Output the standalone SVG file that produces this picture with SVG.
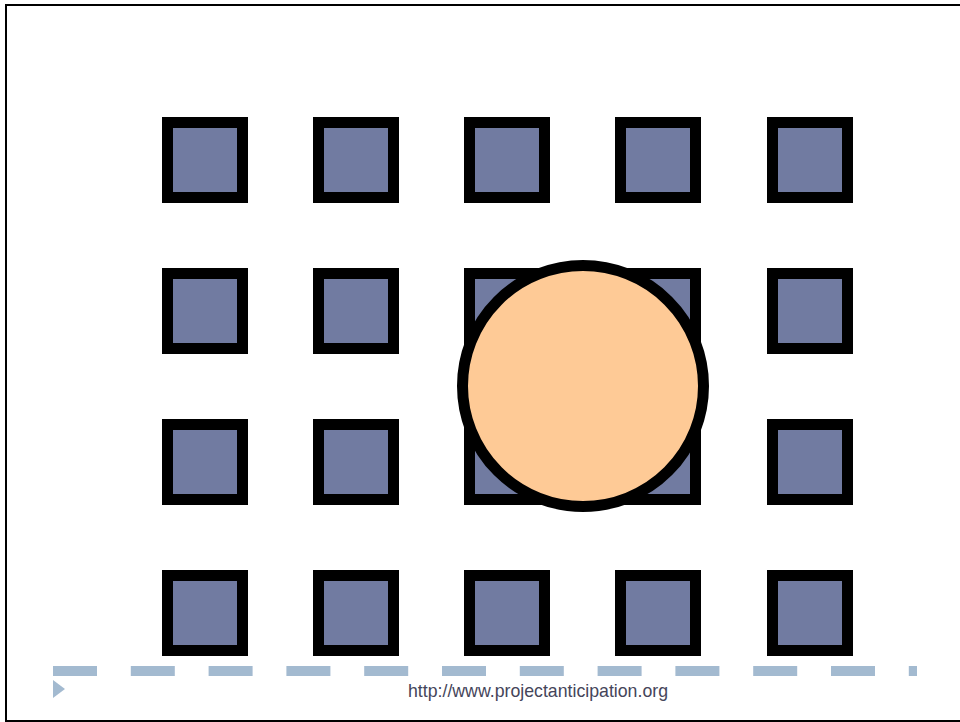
<svg xmlns="http://www.w3.org/2000/svg" width="960" height="722" viewBox="0 0 960 722">
  <defs>
    <style>
      .sq { fill: #717BA1; stroke: #000; stroke-width: 11; }
      .dot { fill: #FECA96; stroke: #000; stroke-width: 11; }
      .dash { stroke: #A3BAD0; stroke-width: 10; stroke-dasharray: 44 33.8; fill: none; }
      .url { font-family: "Liberation Sans", Arial, sans-serif; font-size: 19px; fill: #45455A; }
    </style>
  </defs>
  <rect x="0" y="0" width="960" height="722" fill="#fff"/>
  <rect x="6" y="5" width="960" height="716" fill="#fff" stroke="#000" stroke-width="2"/>
  <g id="grid">
    <g id="r1c1"><rect class="sq" x="167.5" y="122.5" width="75" height="75"/></g>
    <g id="r1c2"><rect class="sq" x="318.5" y="122.5" width="75" height="75"/></g>
    <g id="r1c3"><rect class="sq" x="469.5" y="122.5" width="75" height="75"/></g>
    <g id="r1c4"><rect class="sq" x="620.5" y="122.5" width="75" height="75"/></g>
    <g id="r1c5"><rect class="sq" x="772.5" y="122.5" width="75" height="75"/></g>
    <g id="r2c1"><rect class="sq" x="167.5" y="273.5" width="75" height="75"/></g>
    <g id="r2c2"><rect class="sq" x="318.5" y="273.5" width="75" height="75"/></g>
    <g id="r2c3"><rect class="sq" x="469.5" y="273.5" width="75" height="75"/></g>
    <g id="r2c4"><rect class="sq" x="620.5" y="273.5" width="75" height="75"/></g>
    <g id="r2c5"><rect class="sq" x="772.5" y="273.5" width="75" height="75"/></g>
    <g id="r3c1"><rect class="sq" x="167.5" y="424.5" width="75" height="75"/></g>
    <g id="r3c2"><rect class="sq" x="318.5" y="424.5" width="75" height="75"/></g>
    <g id="r3c3"><rect class="sq" x="469.5" y="424.5" width="75" height="75"/></g>
    <g id="r3c4"><rect class="sq" x="620.5" y="424.5" width="75" height="75"/></g>
    <g id="r3c5"><rect class="sq" x="772.5" y="424.5" width="75" height="75"/></g>
    <g id="r4c1"><rect class="sq" x="167.5" y="575.5" width="75" height="75"/></g>
    <g id="r4c2"><rect class="sq" x="318.5" y="575.5" width="75" height="75"/></g>
    <g id="r4c3"><rect class="sq" x="469.5" y="575.5" width="75" height="75"/></g>
    <g id="r4c4"><rect class="sq" x="620.5" y="575.5" width="75" height="75"/></g>
    <g id="r4c5"><rect class="sq" x="772.5" y="575.5" width="75" height="75"/></g>
  </g>
  <g id="circle"><circle class="dot" cx="583" cy="386" r="120.5"/></g>
  <g id="footer">
    <line class="dash" x1="53" y1="671" x2="917" y2="671"/>
    <polygon points="53,680 65,689 53,698" fill="#A3BAD0"/>
    <text class="url" x="408" y="697" textLength="260" lengthAdjust="spacingAndGlyphs">http://www.projectanticipation.org</text>
  </g>
</svg>
